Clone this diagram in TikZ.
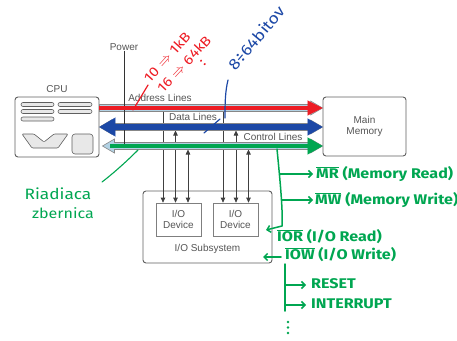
\documentclass[tikz,border=0pt]{standalone}
\usepackage{fontspec}
\setmainfont{Liberation Sans}
\newfontfamily\hand[FakeStretch=1.15]{Fira Sans}
\usetikzlibrary{arrows.meta,calc}
\definecolor{hred}{RGB}{237,28,36}
\definecolor{hblue}{RGB}{28,72,166}
\definecolor{hgreen}{RGB}{0,166,81}
\definecolor{bandfill}{RGB}{178,210,228}
\definecolor{bandline}{RGB}{135,135,135}
\definecolor{txtgray}{RGB}{85,85,85}
\definecolor{boxline}{RGB}{95,95,95}
\definecolor{barfill}{RGB}{232,232,232}
\newcommand{\ovl}[1]{\ensuremath{\overline{\mbox{#1}}}}
\newcommand{\bandR}[2]{%
  \filldraw[bandst] ($(#1)+(0,-3.5)$) -- ($(#2)+(-12,-3.5)$) -- ($(#2)+(-12,-7)$) -- (#2)
    -- ($(#2)+(-12,7)$) -- ($(#2)+(-12,3.5)$) -- ($(#1)+(0,3.5)$) -- cycle;}
\newcommand{\bandLR}[2]{%
  \filldraw[bandst] ($(#1)+(12,-3.5)$) -- ($(#2)+(-12,-3.5)$) -- ($(#2)+(-12,-7)$) -- (#2)
    -- ($(#2)+(-12,7)$) -- ($(#2)+(-12,3.5)$) -- ($(#1)+(12,3.5)$) -- ($(#1)+(12,7)$)
    -- (#1) -- ($(#1)+(12,-7)$) -- cycle;}
\begin{document}
\begin{tikzpicture}[x=1pt,y=-1pt,
  box/.style={draw=boxline,line width=0.9pt,rounded corners=3pt,fill=white,inner sep=0pt},
  devbox/.style={draw=boxline!80,line width=0.7pt,fill=white,inner sep=0pt,align=center,
     font=\fontsize{10}{11.5}\selectfont,text=txtgray},
  lbl/.style={font=\fontsize{10}{11.5}\selectfont,text=txtgray,inner sep=0pt,align=center},
  bandst/.style={fill=bandfill,draw=bandline,line width=0.6pt,line join=miter},
  bar/.style={draw=boxline,fill=barfill,line width=0.6pt,rounded corners=2pt},
  vline/.style={draw=black!75,line width=0.7pt},
  vtip/.style={-{Triangle[length=5pt,width=4.5pt]}},
  vtips/.style={{Triangle[length=5pt,width=4.5pt]}-{Triangle[length=5pt,width=4.5pt]}},
  gstroke/.style={hgreen,line width=1.5pt,line cap=round,line join=round},
  garrow/.style={gstroke,-{Straight Barb[length=3.5pt,width=7pt]}},
  gtext/.style={text=hgreen,font=\hand\bfseries\fontsize{14}{15}\selectfont,inner sep=0pt,anchor=west},
  rtext/.style={text=hred,font=\hand\fontsize{13.5}{14}\selectfont,inner sep=0pt},
]
\useasboundingbox (0,0) rectangle (457,340);

% main boxes
\node[box,minimum width=84pt,minimum height=60pt] (cpu) at (57,127) {};
\node[lbl] (cpulbl) at (57,89) {CPU};
\node[box,minimum width=83pt,minimum height=59pt,lbl,draw=boxline,line width=0.9pt,fill=white] (mem) at (364.5,126.5) {Main\\Memory};
\node[box,minimum width=129pt,minimum height=72pt] (ios) at (207.5,227) {};
\node[devbox,minimum width=45pt,minimum height=33pt] (dev1) at (178.5,219.5) {I/O\\Device};
\node[devbox,minimum width=45pt,minimum height=33pt] (dev2) at (235.5,219.5) {I/O\\Device};
\node[lbl] (ioslbl) at (207.5,249) {I/O Subsystem};

% CPU internals
\draw[bar] (21,102.5) rectangle (54,106.5);
\draw[bar] (58,102.5) rectangle (92,106.5);
\draw[bar] (21,109.5) rectangle (54,113.5);
\draw[bar] (58,109.5) rectangle (92,113.5);
\draw[bar] (21,117) rectangle (54,121);
\draw[bar,rounded corners=1pt] (22,134) -- (34,134) -- (44,142) -- (54,134) -- (68,134) -- (58,148) -- (32,148) -- cycle;
\draw[bar,rounded corners=3pt] (72,134) rectangle (93,154);

% bus end coordinates
\coordinate (aL) at (cpu.east |- 0,108);
\coordinate (aR) at (mem.west |- 0,108);
\coordinate (dL) at (cpu.east |- 0,127);
\coordinate (dR) at (mem.west |- 0,127);
\coordinate (cL) at ($(cpu.east |- 0,146)+(3,0)$);
\coordinate (cR) at (mem.west |- 0,146);

% vertical lines to I/O devices (behind the buses)
\coordinate (v1) at (163,111.5);
\coordinate (v2) at (175.5,130.5);
\coordinate (v3) at (188,149.5);
\coordinate (w1) at (223,111.5);
\coordinate (w2) at (236,130.5);
\coordinate (w3) at (248.5,149.5);
\draw[vline,vtip] (v1) -- (v1 |- dev1.north);
\draw[vline,vtips] (v2) -- (v2 |- dev1.north);
\draw[vline,vtips] (v3) -- (v3 |- dev1.north);
\draw[vline,vtip] (w1) -- (w1 |- dev2.north);
\draw[vline,vtips] (w2) -- (w2 |- dev2.north);
\draw[vline,vtips] (w3) -- (w3 |- dev2.north);

% bus bands
\bandR{aL}{aR}
\bandLR{dL}{dR}
\bandLR{cL}{cR}

% power line
\node[lbl] (pwr) at (124,47) {Power};
\coordinate (pwrB) at (124,148);
\draw[black!80,line width=0.9pt] (pwr.south) -- (pwrB);
\fill[black!80] (124,108) circle (1.6pt) (124,146.5) circle (1.6pt);

% bus labels
\node[lbl] (alab) at (160,98) {Address Lines};
\node[lbl] (dlab) at (193,117) {Data Lines};
\node[lbl] (clab) at (273,137) {Control Lines};

% coloured overdrawn buses
\draw[hred,line width=4pt,-{Triangle[length=15pt,width=15pt,line width=0.1pt]}] (aL) -- (aR);
\draw[hblue,line width=5.5pt,{Triangle[length=16pt,width=19pt,line width=0.1pt]}-{Triangle[length=15pt,width=17pt,line width=0.1pt]}] (dL) -- (dR);
\draw[hgreen,line width=4.5pt,-{Triangle[length=15pt,width=17pt,line width=0.1pt]}] ($(cL)+(8,0)$) -- (cR);

% red annotation
\draw[hred,line width=1.2pt,line cap=round] (133,110) -- (148,85);
\node[rtext,rotate=48] (r1) at (167,57) {10 $\Rightarrow$ 1kB};
\node[rtext,rotate=47] (r2) at (184,64) {16 $\Rightarrow$ 64kB};
\node[rtext,rotate=47] (r3) at (203,63) {:};

% blue annotation
\node[text=hblue,font=\hand\fontsize{15.5}{16}\selectfont,rotate=50,inner sep=0pt] (b1) at (256,38) {8÷64bitov};
\draw[hblue,line width=1.2pt,line cap=round] (228,80) .. controls (225,92) and (225,105) .. (225,118);
\draw[hblue,line width=1.2pt,line cap=round] (204,133) -- (220,119);

% green annotation: Riadiaca zbernica
\node[text=hgreen,font=\hand\fontsize{15}{16}\selectfont,inner sep=0pt] (rz1) at (58,194) {Riadiaca};
\node[text=hgreen,font=\hand\fontsize{14}{15}\selectfont,inner sep=0pt] (rz2) at (63,213) {zbernica};
\coordinate (rzT) at (138,150);
\draw[hgreen,line width=1.1pt,line cap=round] (102,182) .. controls (115,172) and (128,160) .. (rzT);

% green control signals
\coordinate (gTop) at (277,149);
\coordinate (gBot) at (282,226);
\draw[gstroke] (gTop) .. controls (280,180) and (283,210) .. (gBot);
\draw[garrow] (gBot) -- (266,230);
\draw[garrow] (280,174) -- (313,174);
\draw[garrow] (281.5,200) -- (313,200);
\node[gtext] (mr) at (316,174) {\ovl{MR} (Memory Read)};
\node[gtext] (mw) at (315,200) {\ovl{MW} (Memory Write)};
\node[gtext] (ior) at (277,237) {\ovl{IOR} (I/O Read)};
\node[gtext] (iow) at (285,255) {\ovl{IOW} (I/O Write)};
\draw[garrow] (281,257) -- (263,257);
\coordinate (g2Top) at (285,264);
\coordinate (g2Bot) at (285,311);
\draw[gstroke] (g2Top) -- (g2Bot);
\draw[garrow] (285,285) -- (306,285);
\draw[garrow] (285,305) -- (306,305);
\node[gtext] (rst) at (311,284) {RESET};
\node[gtext] (intr) at (311,304) {INTERRUPT};
\fill[hgreen] (288,322) circle (1.3pt) (288,327.5) circle (1.3pt) (288,333) circle (1.3pt);
\end{tikzpicture}
\end{document}
